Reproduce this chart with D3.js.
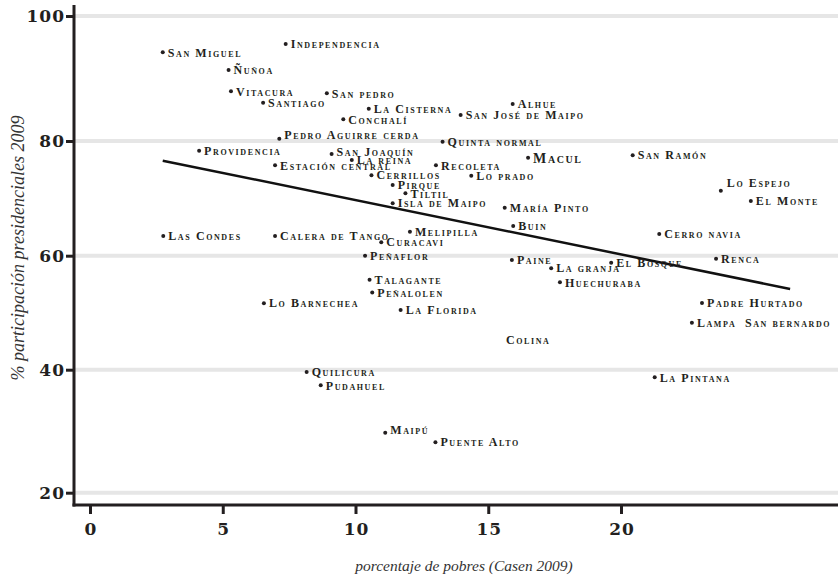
<!DOCTYPE html>
<html>
<head>
<meta charset="utf-8">
<script src="https://cdn.jsdelivr.net/npm/d3@7"></script>
<style>
	body { margin: 0; background: #fff; }
	svg { display: block; }
	.etiqueta { font-family: "Liberation Serif", serif; font-weight: bold; font-variant: small-caps; fill: #231f20; }
	.tick text { font-family: "DejaVu Serif", serif; font-weight: bold; fill: #231f20; }
	.titulo { font-family: "Liberation Serif", serif; font-style: italic; fill: #333; }
</style>
</head>
<body>
<div id="grafico"></div>
<script>
var comunas = ["San Miguel", "Independencia", "Ñuñoa", "Vitacura", "San pedro", "Santiago",
	"La Cisterna", "Conchalí", "Pedro Aguirre cerda", "Providencia", "San Joaquín", "La reina",
	"Estación central", "Cerrillos", "Alhue", "San José de Maipo", "Quinta normal", "Macul",
	"San Ramón", "Recoleta", "Lo prado", "Pirque", "Tiltil", "Isla de Maipo", "María Pinto",
	"Buin", "Melipilla", "Curacavi", "Cerro navia", "Lo Espejo", "El Monte", "Renca",
	"Padre Hurtado", "Lampa", "San bernardo", "La Pintana", "Las Condes", "Calera de Tango",
	"Peñaflor", "Talagante", "Peñalolen", "Lo Barnechea", "Paine", "La granja", "El Bosque",
	"Huechuraba", "La Florida", "Colina", "Quilicura", "Pudahuel", "Maipú", "Puente Alto"];
var pobreza = [2.74, 7.37, 5.22, 5.31, 8.92, 6.52,
	10.50, 9.54, 7.13, 4.11, 9.10, 9.86,
	6.97, 10.60, 15.92, 13.96, 13.28, 16.50,
	20.44, 13.03, 14.36, 11.40, 11.88, 11.40, 15.62,
	15.94, 12.05, 10.97, 21.44, 23.76, 24.89, 23.58,
	23.05, 22.67, 24.48, 21.27, 2.76, 6.97,
	10.36, 10.53, 10.63, 6.55, 15.89, 17.37, 19.63,
	17.70, 11.70, 15.48, 8.16, 8.69, 11.12, 13.01];
var participacion = [94.19, 95.52, 91.36, 87.95, 87.63, 86.13,
	85.17, 83.47, 80.37, 78.31, 77.73, 76.69,
	75.76, 74.02, 85.92, 84.16, 79.88, 77.09,
	77.51, 75.76, 73.95, 72.33, 70.88, 69.14, 68.37,
	65.18, 64.18, 62.34, 63.78, 71.33, 69.54, 59.47,
	51.70, 48.25, 48.25, 38.76, 63.43, 63.43,
	60.00, 55.79, 53.54, 51.65, 59.25, 57.79, 58.77,
	55.33, 50.47, 45.21, 39.63, 37.46, 29.76, 28.20];
// comunas que aparecen solo con el nombre
var sinPunto = ["San bernardo", "Colina"];
// recta de ajuste, extremos
var ajusteX = [2.74, 26.37];
var ajusteY = [76.57, 54.16];
var ticksX = [0, 5, 10, 15, 20];
var ticksY = [20, 40, 60, 80, 100];

var width = 838, height = 579;
// ajustes finos de posicion de algunas etiquetas
var empujes = { "Lo Espejo": [1, -8], "Pedro Aguirre cerda": [0, -4], "San Joaquín": [0, -2], "Maipú": [0, -3] };
var tamanos = { "Macul": 14 };

var x = d3.scaleLinear().domain([0, 20]).range([90, 621]);
var y = d3.scaleLinear().domain(ticksY).range([492.7, 369.7, 255.7, 141, 16]);

var svg = d3.select('#grafico').append('svg')
	.attr('width', width)
	.attr('height', height);

// grilla horizontal
svg.append('g').selectAll('line')
	.data(ticksY).enter()
	.append('line')
	.attr('x1', 74).attr('x2', width)
	.attr('y1', function(d){ return y(d); })
	.attr('y2', function(d){ return y(d); })
	.attr('stroke', '#e6e6e6')
	.attr('stroke-width', 4);

var ejeY = svg.append('g')
	.attr('transform', 'translate(74,0)')
	.call(d3.axisLeft(y).tickValues(ticksY).tickSize(8).tickPadding(1).tickFormat(d3.format('d')));
var ejeX = svg.append('g')
	.attr('transform', 'translate(0,505)')
	.call(d3.axisBottom(x).tickValues(ticksX).tickSize(9).tickPadding(8).tickFormat(d3.format('d')));
[ejeY, ejeX].forEach(function(g){
	g.select('.domain').remove();
	g.selectAll('.tick line').attr('stroke', '#231f20').attr('stroke-width', 3);
	g.selectAll('.tick text').attr('font-size', 17).attr('letter-spacing', 1);
});
ejeX.selectAll('.tick text').attr('dy', '0.75em').attr('dx', 0.5);

// lineas de los ejes
svg.append('line').attr('x1', 74).attr('x2', 74).attr('y1', 5).attr('y2', 506.5)
	.attr('stroke', '#231f20').attr('stroke-width', 3);
svg.append('line').attr('x1', 72.5).attr('x2', width).attr('y1', 505).attr('y2', 505)
	.attr('stroke', '#231f20').attr('stroke-width', 3);

// recta de ajuste
svg.append('line')
	.attr('x1', x(ajusteX[0])).attr('y1', y(ajusteY[0]))
	.attr('x2', x(ajusteX[1])).attr('y2', y(ajusteY[1]))
	.attr('stroke', '#111')
	.attr('stroke-width', 2.5);

var puntos = comunas.map(function(c, i){ return { nombre: c, px: pobreza[i], py: participacion[i] }; });

svg.append('g').selectAll('circle')
	.data(puntos.filter(function(d){ return sinPunto.indexOf(d.nombre) < 0; })).enter()
	.append('circle')
	.attr('cx', function(d){ return x(d.px); })
	.attr('cy', function(d){ return y(d.py); })
	.attr('r', 2)
	.attr('fill', '#231f20');

svg.append('g').selectAll('text')
	.data(puntos).enter()
	.append('text')
	.attr('class', 'etiqueta')
	.attr('x', function(d){ return x(d.px) + 5 + (empujes[d.nombre] ? empujes[d.nombre][0] : 0); })
	.attr('y', function(d){ return y(d.py) + (empujes[d.nombre] ? empujes[d.nombre][1] : 0); })
	.attr('dy', '0.35em')
	.attr('font-size', function(d){ return tamanos[d.nombre] || 12; })
	.attr('letter-spacing', 1.6)
	.text(function(d){ return d.nombre; });

// titulos
svg.append('text')
	.attr('class', 'titulo')
	.attr('x', 464).attr('y', 571)
	.attr('text-anchor', 'middle')
	.attr('font-size', 15.5)
	.text('porcentaje de pobres (Casen 2009)');
svg.append('text')
	.attr('class', 'titulo')
	.attr('transform', 'translate(24,248) rotate(-90)')
	.attr('text-anchor', 'middle')
	.attr('font-size', 18)
	.text('% participación presidenciales 2009');
</script>
</body>
</html>
